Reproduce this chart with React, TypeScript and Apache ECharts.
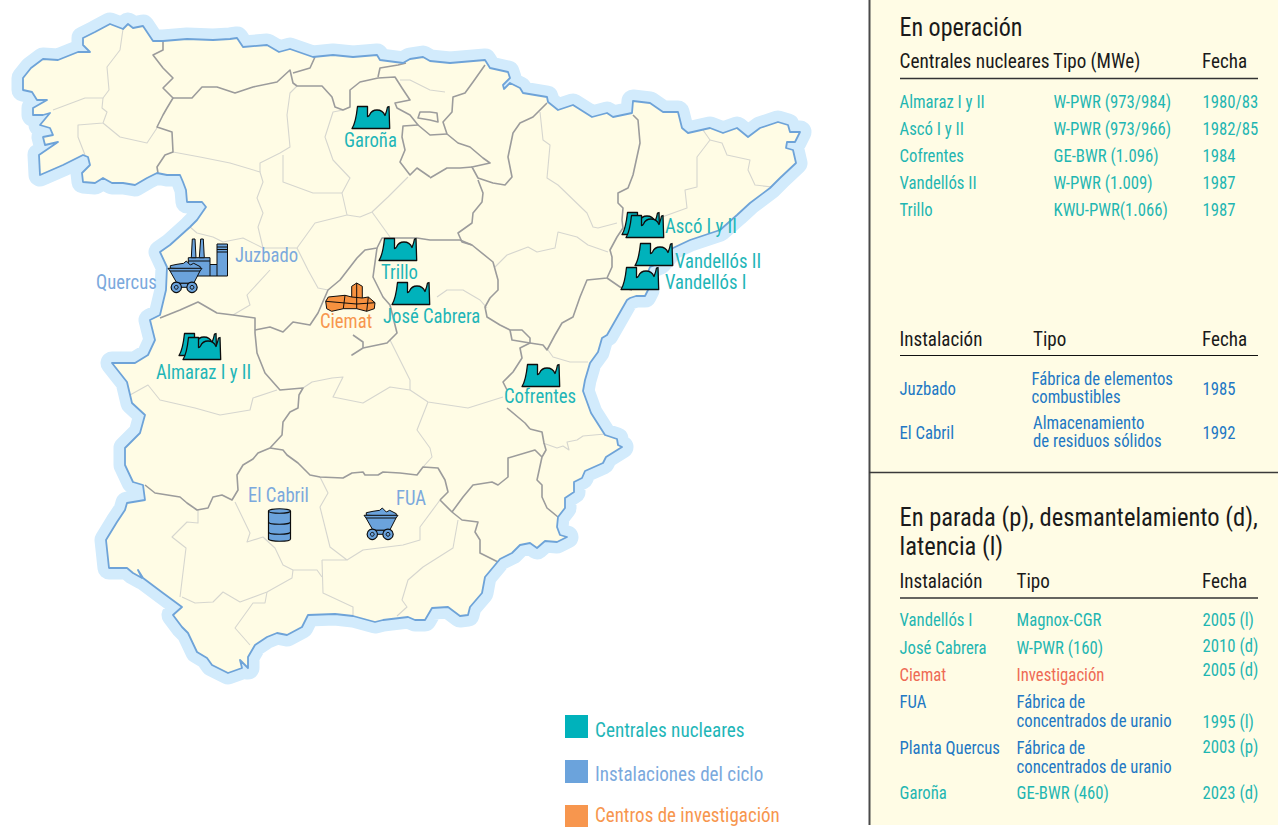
import React, { useEffect, useRef } from "react";
import * as echarts from "echarts";

type P = number[];

// ---------- map geometry, in the reference's own plane ----------
const coast: P[] = [
  [23,90],[23,78],[31,68],[43,59],[58,60],[78,52],[90,52],[83,45],[83,38],[95,32],[110,24],[123,29],[128,24],[133,28],[143,26],[153,41],[163,41],[187,39],[213,40],[230,39],[237,38],[243,47],[267,45],[279,52],[290,49],[313,57],[333,55],[353,57],[377,55],[380,60],[403,63],[410,59],[423,57],[430,61],[450,63],[485,60],[490,68],[508,72],[510,78],[503,85],[504,89],[510,83],[520,88],[523,93],[547,97],[548,102],[558,110],[573,105],[592,117],[607,113],[613,117],[632,113],[633,101],[650,103],[663,112],[678,112],[682,128],[688,133],[710,128],[723,133],[737,128],[748,137],[760,128],[778,122],[788,125],[790,132],[800,132],[795,142],[787,142],[786,148],[793,150],[796,163],[780,178],[770,188],[750,203],[737,215],[720,230],[690,240],[673,248],[660,263],[650,267],[644,282],[648,290],[645,296],[636,296],[630,298],[627,300],[607,335],[602,338],[598,352],[590,363],[585,380],[583,391],[591,413],[605,435],[617,439],[618,445],[622,447],[606,457],[603,463],[585,471],[582,478],[574,482],[574,492],[565,498],[565,508],[558,517],[557,527],[560,535],[567,537],[557,542],[545,541],[537,548],[530,543],[520,545],[512,553],[500,559],[485,577],[482,593],[470,607],[468,615],[460,616],[448,607],[432,608],[425,620],[415,620],[408,617],[383,620],[375,622],[353,616],[335,614],[308,615],[302,627],[287,635],[277,633],[267,637],[255,645],[248,657],[248,668],[240,660],[242,668],[228,673],[212,665],[207,658],[197,652],[188,633],[182,627],[173,615],[182,607],[163,593],[143,578],[138,570],[142,578],[133,573],[127,568],[109,568],[106,540],[117,522],[125,510],[127,503],[145,500],[143,485],[133,482],[125,465],[125,448],[140,433],[145,415],[132,403],[127,382],[112,363],[135,363],[148,355],[155,340],[150,320],[160,315],[166,290],[167,267],[160,252],[170,245],[190,227],[197,220],[206,207],[202,202],[187,202],[186,190],[183,182],[180,175],[167,175],[157,173],[147,178],[135,185],[123,183],[112,183],[103,178],[95,183],[83,182],[82,173],[90,165],[88,157],[83,155],[63,165],[40,175],[39,155],[58,142],[45,145],[43,137],[53,135],[50,128],[40,125],[50,113],[43,115],[33,115],[33,108],[47,100],[37,100],[32,92],
];

const darkBorders: P[][] = [
  [[163,41],[163,50],[153,55],[163,68],[173,78],[163,88],[173,98],[167,108],[163,115],[157,127],[172,132],[173,152],[165,155],[157,167],[158,173]],
  [[173,98],[192,98],[202,87],[217,87],[235,93],[253,87],[277,82],[290,70],[293,83],[297,86],[322,86],[332,97],[335,107],[343,110],[350,107],[350,90],[360,82],[378,78],[395,77],[402,88],[410,100],[395,103],[397,108],[410,115],[418,125],[403,126],[402,137],[405,150],[400,162],[410,175],[417,168],[430,177]],
  [[293,73],[310,68],[315,57]],
  [[378,77],[380,68],[398,65],[406,63]],
  [[485,65],[473,82],[465,93],[453,97],[452,112],[443,122],[447,134],[458,143],[470,147],[483,158],[490,163],[472,167],[478,178],[493,183],[505,185],[512,177],[508,157],[513,133],[520,123],[533,117],[547,103]],
  [[418,125],[430,135],[447,134]],
  [[430,112],[437,113],[438,122],[430,120],[418,118],[420,112],[430,112]],
  [[430,178],[447,168],[460,168],[472,167]],
  [[478,180],[483,193],[482,202],[473,213],[472,223],[458,233],[462,242],[472,245],[493,262],[498,280],[498,290],[490,298],[485,307],[487,317],[500,325],[510,330],[522,330],[530,338],[530,343],[520,348],[522,358],[513,372],[503,382],[507,390]],
  [[510,330],[512,340],[530,343]],
  [[530,343],[543,345],[547,350],[555,335],[562,323],[573,317],[580,297],[587,280],[607,278],[612,267],[612,257],[610,250],[617,237],[623,228],[622,220],[623,208],[618,203],[618,193],[628,188],[633,175],[640,143],[638,120],[633,115]],
  [[607,278],[620,287],[632,290]],
  [[530,429],[542,432],[544,443],[546,450],[542,457],[537,480],[542,485],[542,497],[547,508],[558,517]],
  [[507,408],[525,423],[530,429]],
  [[542,457],[535,450],[508,458],[508,477],[498,485],[492,482],[473,485],[463,497],[452,512]],
  [[440,500],[452,512],[462,520],[478,522],[475,532],[480,540],[480,553],[498,562]],
  [[440,500],[448,492],[445,480],[438,468],[423,467],[417,475],[400,473],[383,472],[378,475],[365,475],[363,472],[352,473],[343,478],[320,477],[310,475],[298,463],[287,455],[283,450],[270,448]],
  [[270,448],[258,453],[253,459],[243,465],[237,475],[238,490],[232,500],[222,495],[213,497],[208,508],[197,510],[187,503],[180,497],[155,493],[145,485]],
  [[270,448],[282,435],[283,422],[290,412],[298,408],[299,395],[303,388],[280,390],[265,373],[257,353],[255,333],[255,318],[233,315],[217,313],[198,302],[180,310],[160,318]],
  [[255,330],[270,327],[283,332],[293,322],[310,325],[318,313],[328,290],[340,280],[357,258],[365,250],[377,248],[382,238],[417,238],[430,240],[460,240],[472,245]],
  [[377,248],[373,277],[383,297],[390,305],[395,325],[397,333],[387,343],[363,348],[352,355],[363,348],[363,342],[353,335]],
];

const lightBorders: P[][] = [
  [[123,29],[120,50],[107,67],[109,90],[103,98],[85,98],[53,110]],
  [[103,98],[102,108],[107,112],[103,123],[78,125],[78,137],[85,155]],
  [[103,123],[120,137],[147,143],[157,128]],
  [[173,152],[200,157],[230,163],[260,172],[263,182],[257,198],[263,213],[258,227],[263,248],[297,248],[315,223],[347,215],[342,193],[350,178],[333,160],[325,137],[333,112],[343,110]],
  [[260,172],[260,163],[280,153],[290,147],[287,115],[290,93],[297,86]],
  [[283,155],[283,182],[313,193],[342,193]],
  [[347,215],[360,217],[372,212],[388,197],[408,177]],
  [[372,212],[390,237]],
  [[190,227],[197,233],[213,237],[223,242],[243,238],[263,248]],
  [[297,248],[308,270],[318,288],[328,290]],
  [[270,270],[247,295],[250,305],[233,315]],
  [[400,80],[410,80],[430,90],[445,92]],
  [[540,112],[543,140],[550,145],[547,178],[558,185],[587,213],[593,227],[598,228],[617,223]],
  [[495,267],[507,255],[528,247],[537,252],[555,248],[558,232],[577,237],[588,245],[608,252]],
  [[703,130],[710,140],[697,157],[697,187],[685,190],[687,208],[662,217]],
  [[710,140],[722,143],[727,155],[750,160],[748,170],[755,185],[772,187]],
  [[548,350],[553,357],[570,362],[588,362]],
  [[543,443],[557,448],[563,446],[569,450],[567,442],[577,440],[583,436],[605,434]],
  [[437,297],[447,290],[463,290],[480,300],[487,308]],
  [[503,397],[468,408],[428,402],[410,390],[390,387],[363,403],[333,397],[343,377],[332,378],[312,382],[303,388]],
  [[390,340],[410,380],[410,390]],
  [[428,402],[417,430],[430,448],[432,457],[423,467]],
  [[130,395],[148,385],[160,400],[195,408],[220,415],[250,410],[253,398],[277,390]],
  [[235,502],[250,533],[247,542],[263,537],[275,548],[283,565],[293,570],[317,570],[322,577]],
  [[198,510],[198,523],[187,522],[172,537],[186,548],[180,597]],
  [[182,597],[195,603],[213,602],[223,592],[240,602],[267,592],[292,578],[293,570]],
  [[267,592],[265,603],[253,603],[235,628],[250,645]],
  [[322,560],[323,593],[353,607],[353,616]],
  [[320,477],[328,493],[320,507],[330,547],[347,560],[322,560]],
  [[347,560],[363,550],[403,545],[420,540],[420,527],[440,500]],
  [[458,520],[453,548],[423,567],[408,580],[402,600],[407,607],[397,616]],
];

// ---------- sites ----------
const plantCorners: P[] = [[352,106],[379,238],[392,282],[179,333],[183,337],[622,212],[626,215],[635,243],[621,267],[522,364]];
const wagonCorners: P[] = [[168,260],[364,507]];
const factoryCorners: P[] = [[188,239]];
const barrelCorners: P[] = [[268,508]];
const labCorners: P[] = [[325,283]];

const tealLabels = ["Garoña","Trillo","José Cabrera","Almaraz I y II","Cofrentes","Ascó I y II","Vandellós II","Vandellós I"];
const tealLabelAt: P[] = [[344,140],[381,272],[383,316],[156,372],[504,396],[665,226],[675,261],[665,282]];
const blueLabels = ["Quercus","Juzbado","El Cabril","FUA"];
const blueLabelAt: P[] = [[96,282],[235,255],[248,495],[396,498]];
const orangeLabels = ["Ciemat"];
const orangeLabelAt: P[] = [[320,321]];

// ---------- tables ----------
const opNames = ["Almaraz I y II","Ascó I y II","Cofrentes","Vandellós II","Trillo"];
const opTypes = ["W-PWR (973/984)","W-PWR (973/966)","GE-BWR (1.096)","W-PWR (1.009)","KWU-PWR(1.066)"];
const opDates = ["1980/83","1982/85","1984","1987","1987"];
const opRows = [102,129,156,183,210];

const stopNames = ["Vandellós I","José Cabrera","Ciemat","FUA","Planta Quercus","Garoña"];
const stopTypes = ["Magnox-CGR","W-PWR (160)","Investigación","Fábrica de","Fábrica de","GE-BWR (460)"];
const stopDates = ["2005 (l)","2010 (d)","2005 (d)","1995 (l)","2003 (p)","2023 (d)"];
const stopRows = [620,648,675,702,748,793];
const stopDateRows = [620,646,670,722,747,793];
const legendNames = ["Centrales nucleares","Instalaciones del ciclo","Centros de investigación"];

const TEAL = "#00b2bb", TEALTXT = "#1fb6b8", TABTEAL = "#1fb6b2", MAPBLUE = "#7ba9dd", ICONBLUE = "#6ba3dc";
const ORANGE = "#f7964e", TABBLUE = "#2278c4", RED = "#ee6a55", CREAM = "#fffce5", INK = "#1a1a1a";
const FAMILY = '"Liberation Sans Narrow","Roboto Condensed",sans-serif';
const SX = 0.93, LABEL_SX = 0.89, TITLE_SX = 0.945;

const PLANT = "M0 22.5 C3 18 4.5 10 5.5 0.5 L15.5 0.5 L15.5 10.5 C16.5 10.5 17 10 17.5 9 C19 5.5 22 4 25 4 C28 4 31.5 6 33 9.5 C34 7 35 4 35.5 1 L37 0.5 L37.7 22.5 Z";
const LAB = "M0.7 18.3 L3.3 14 L20 12.3 L26.7 14 L26.7 3.3 L31.7 0 L37.3 3.3 L37.3 15 L43.3 14 L50 19.7 L49.3 25.7 L41.7 28.3 L31.7 25.7 L18.3 25.7 L6.7 28.3 L1.7 25.7 Z";
const LABIN = "M0.7 18.3 L31.7 21 L50 19.7 M31.7 0 L31.7 25.7 M20 12.3 L18.3 25.7 M43.3 14 L41.7 28.3 M26.7 14 L37.3 15";
const COAL = "M2.3 8.3 L2.3 5.7 L9 4.3 L15.7 3.3 L18.3 1 L22.3 5 L25.7 3.3 L32.3 6.7 L32.3 9.3 Z";
const TUB = "M0 8.3 L34 8.3 L32 11 L25.7 23.3 L9 23.3 L2 11 Z";
const TUBIN = "M2 11 L32 11";
const CHIM = "M4.3 0 L7 0 L8 18.7 L3.3 18.7 Z M12.7 0 L15.3 0 L16.3 18.7 L11.3 18.7 Z";
const WORKS = "M0.3 18.7 L22 18.7 L22 25.5 L29 25.5 L29 5 L39.5 5 L39.5 37 L0.3 37 Z";
const WORKSIN = "M0.3 22 L22 22 M22 25.5 L22 37 M29 25.5 L29 37 M29 8 L39.5 8 M29 10.5 L39.5 10.5 M29 13 L39.5 13";
const DRUM = "M0.5 3 C0.5 0 22.5 0 22.5 3 L22.5 31 C22.5 34 0.5 34 0.5 31 Z";
const DRUMIN = "M0.5 3 C0.5 6 22.5 6 22.5 3 M0.5 14 C0.5 17 22.5 17 22.5 14 M0.5 24 C0.5 27 22.5 27 22.5 24";

function App() {
  const ref = useRef<HTMLDivElement>(null);
  useEffect(() => {
    document.body.style.margin = "0";
    const chart = echarts.init(ref.current!, null, { renderer: "svg" });

    const ptsOf = (api: any, pts: P[]) => pts.map((p) => api.coord(p));
    const layer = (n: number, renderItem: any) => ({
      type: "custom", coordinateSystem: "cartesian2d", silent: true, clip: false,
      data: Array.from({ length: n }, (_, i) => [i, 0]), renderItem,
    });
    const pathEl = (d: string, fill: string, width = 1) => ({
      type: "path", shape: { pathData: d }, style: { fill, stroke: "#0d0d0d", lineWidth: width, lineJoin: "round" },
    });
    const iconLayer = (corners: P[], kids: any[]) =>
      layer(corners.length, (params: any, api: any) => {
        const [x, y] = api.coord(corners[params.dataIndex]);
        return { type: "group", x, y, children: kids };
      });
    const labelLayer = (names: string[], at: P[], fill: string) =>
      layer(names.length, (params: any, api: any) => {
        const [x, y] = api.coord(at[params.dataIndex]);
        return {
          type: "text", x, y, scaleX: LABEL_SX,
          style: { text: names[params.dataIndex], fill, font: `21px ${FAMILY}`, textVerticalAlign: "middle", textAlign: "left" },
        };
      });

    const wheel = (cx: number) => [
      { type: "circle", shape: { cx, cy: 27.3, r: 5.2 }, style: { fill: ICONBLUE, stroke: "#0d0d0d", lineWidth: 1.2 } },
      { type: "circle", shape: { cx, cy: 27.3, r: 1.9 }, style: { fill: ICONBLUE, stroke: "#0d0d0d", lineWidth: 1 } },
    ];
    const wagonKids = [
      pathEl(COAL, ICONBLUE),
      pathEl(TUB, ICONBLUE),
      pathEl(TUBIN, "none"),
      { type: "rect", shape: { x: 9, y: 23.3, width: 15, height: 4 }, style: { fill: ICONBLUE, stroke: "#0d0d0d", lineWidth: 1 } },
      ...wheel(8.3),
      ...wheel(24),
    ];

    const T = (x: number, y: number, text: string, size: number, fill: string, sx = SX) => ({
      type: "text", x, y, scaleX: sx, silent: true,
      style: { text, fill, font: `${size}px ${FAMILY}`, textVerticalAlign: "middle" },
    });
    const rule = (x1: number, x2: number, y: number, stroke = "#333333", lineWidth = 1.5) => ({
      type: "line", silent: true, shape: { x1, y1: y, x2, y2: y }, style: { stroke, lineWidth },
    });

    const BODY = 18, HEAD = 20.5, TITLE = 26;
    const graphics: any[] = [
      { type: "rect", silent: true, shape: { x: 870, y: 0, width: 408, height: 825 }, style: { fill: CREAM } },
      { type: "rect", silent: true, shape: { x: 868.5, y: 0, width: 2, height: 825 }, style: { fill: "#4a4a4a" } },
      rule(869, 1278, 472.5, "#3a3a3a", 1.5),

      T(899.5, 27, "En operación", TITLE, INK, 0.925),
      T(899.5, 61, "Centrales nucleares", HEAD, INK, 0.94),
      T(1053, 61, "Tipo (MWe)", HEAD, INK),
      T(1202, 61, "Fecha", HEAD, INK),
      rule(900, 1258, 78.5),
      ...opNames.map((s, i) => T(899.5, opRows[i], s, BODY, TABTEAL)),
      ...opTypes.map((s, i) => T(1053.5, opRows[i], s, BODY, TABTEAL)),
      ...opDates.map((s, i) => T(1202.5, opRows[i], s, BODY, TABTEAL)),

      T(899.5, 339, "Instalación", HEAD, INK),
      T(1033, 339, "Tipo", HEAD, INK),
      T(1202, 339, "Fecha", HEAD, INK),
      rule(900, 1258, 355.5, "#111111", 1.2),
      T(899.5, 389, "Juzbado", BODY, TABBLUE),
      T(1031.5, 379, "Fábrica de elementos", BODY, TABBLUE),
      T(1031.5, 397, "combustibles", BODY, TABBLUE),
      T(1202.5, 389, "1985", BODY, TABBLUE),
      T(899.5, 432.5, "El Cabril", BODY, TABBLUE),
      T(1033, 423, "Almacenamiento", BODY, TABBLUE),
      T(1033, 441, "de residuos sólidos", BODY, TABBLUE),
      T(1202.5, 432.5, "1992", BODY, TABBLUE),

      T(899.5, 517, "En parada (p), desmantelamiento (d),", TITLE, INK, TITLE_SX),
      T(899.5, 546, "latencia (l)", TITLE, INK, TITLE_SX),
      T(899.5, 581, "Instalación", HEAD, INK),
      T(1016.5, 581, "Tipo", HEAD, INK),
      T(1202, 581, "Fecha", HEAD, INK),
      rule(900, 1258, 598),
      ...stopNames.map((s, i) => T(899.5, stopRows[i], s, BODY, i === 2 ? RED : i === 3 || i === 4 ? TABBLUE : TABTEAL)),
      ...stopTypes.map((s, i) => T(1016.5, stopRows[i], s, BODY, i === 2 ? RED : i === 3 || i === 4 ? TABBLUE : TABTEAL)),
      T(1016.5, 721, "concentrados de uranio", BODY, TABBLUE),
      T(1016.5, 767, "concentrados de uranio", BODY, TABBLUE),
      ...stopDates.map((s, i) => T(1202.5, stopDateRows[i], s, BODY, TABTEAL)),

      ...[TEAL, ICONBLUE, ORANGE].map((fill, i) => ({
        type: "rect", silent: true, shape: { x: 565, y: 715 + i * 45, width: 23, height: i === 2 ? 22 : 23 }, style: { fill },
      })),
      T(595, 730, legendNames[0], 21, TEALTXT, 0.915),
      T(595, 774, legendNames[1], 21, MAPBLUE, 0.91),
      T(595, 815.5, legendNames[2], 20, ORANGE, 0.95),
    ];

    chart.setOption({
      animation: false,
      grid: { left: 0, right: 0, top: 0, bottom: 0 },
      xAxis: { type: "value", min: 0, max: 1278, show: false },
      yAxis: { type: "value", min: 0, max: 827, inverse: true, show: false },
      graphic: { elements: graphics },
      series: [
        layer(1, (_: any, api: any) => ({
          type: "polygon", shape: { points: ptsOf(api, coast) },
          style: { fill: "#d2ebfc", stroke: "#d2ebfc", lineWidth: 23, lineJoin: "round" },
        })),
        layer(1, (_: any, api: any) => ({
          type: "polygon", shape: { points: ptsOf(api, coast) }, style: { fill: CREAM, stroke: "none" },
        })),
        layer(lightBorders.length, (p: any, api: any) => ({
          type: "polyline", shape: { points: ptsOf(api, lightBorders[p.dataIndex]) },
          style: { fill: "none", stroke: "#d6d6cf", lineWidth: 1.1, lineJoin: "round" },
        })),
        layer(darkBorders.length, (p: any, api: any) => ({
          type: "polyline", shape: { points: ptsOf(api, darkBorders[p.dataIndex]) },
          style: { fill: "none", stroke: "#9c9c9c", lineWidth: 1.6, lineJoin: "round" },
        })),
        layer(1, (_: any, api: any) => ({
          type: "polygon", shape: { points: ptsOf(api, coast) },
          style: { fill: "none", stroke: "#6ea3d8", lineWidth: 1.8, lineJoin: "round" },
        })),
        iconLayer(plantCorners, [pathEl(PLANT, TEAL, 1.3)]),
        iconLayer(factoryCorners, [pathEl(WORKS, ICONBLUE), pathEl(CHIM, ICONBLUE), pathEl(WORKSIN, "none")]),
        iconLayer(wagonCorners, wagonKids),
        iconLayer(barrelCorners, [pathEl(DRUM, ICONBLUE, 1.2), pathEl(DRUMIN, "none", 1.2)]),
        iconLayer(labCorners, [pathEl(LAB, "#f7913f"), pathEl(LABIN, "none")]),
        labelLayer(tealLabels, tealLabelAt, TEALTXT),
        labelLayer(blueLabels, blueLabelAt, MAPBLUE),
        labelLayer(orangeLabels, orangeLabelAt, ORANGE),
      ],
    });
    return () => chart.dispose();
  }, []);
  return <div ref={ref} style={{ position: "absolute", left: 0, top: 0, width: 1278, height: 827 }} />;
}

export default App;
